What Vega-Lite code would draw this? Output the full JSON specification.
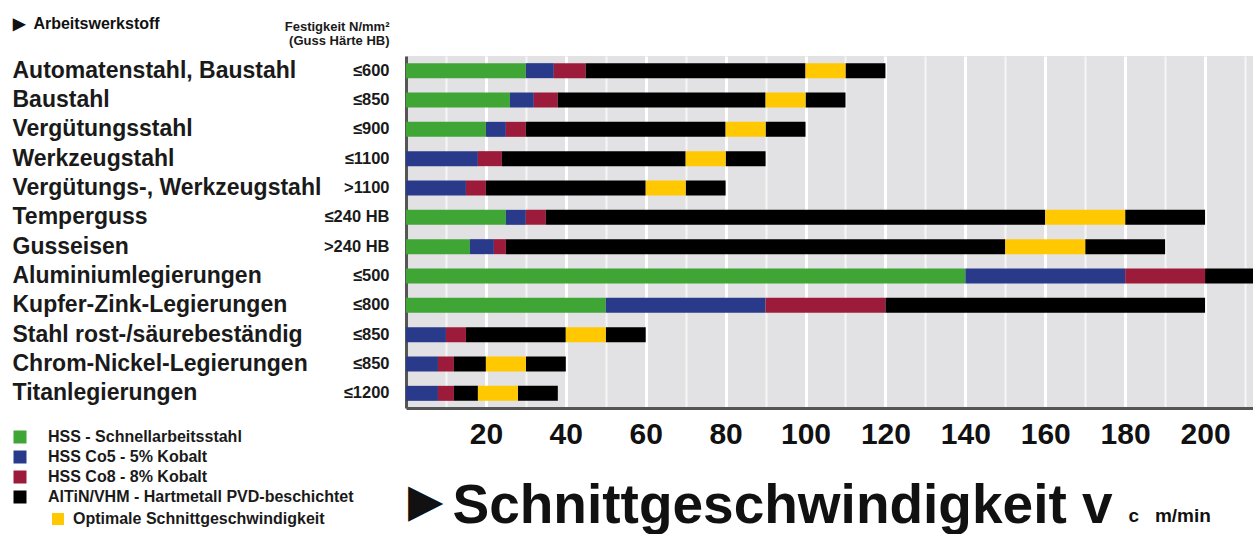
{
  "$schema": "https://vega.github.io/schema/vega-lite/v6.json",
  "width": 847,
  "height": 352,
  "autosize": "none",
  "padding": {"left": 406, "top": 56, "right": 0, "bottom": 126},
  "background": "white",
  "config": {
    "view": {"fill": "#e2e2e4", "stroke": null},
    "font": "Liberation Sans"
  },
  "title": {
    "text": "▶",
    "orient": "bottom",
    "anchor": "start",
    "frame": "group",
    "font": "DejaVu Sans",
    "fontSize": 46,
    "color": "#111111",
    "dx": 2,
    "dy": -57
  },
  "data": {
    "values": [
      {"row": "Automatenstahl, Baustahl|≤600", "tool": "HSS - Schnellarbeitsstahl", "start": 0, "end": 30},
      {"row": "Automatenstahl, Baustahl|≤600", "tool": "HSS Co5 - 5% Kobalt", "start": 30, "end": 37},
      {"row": "Automatenstahl, Baustahl|≤600", "tool": "HSS Co8 - 8% Kobalt", "start": 37, "end": 45},
      {"row": "Automatenstahl, Baustahl|≤600", "tool": "AlTiN/VHM - Hartmetall PVD-beschichtet", "start": 45, "end": 100},
      {"row": "Automatenstahl, Baustahl|≤600", "tool": "Optimale Schnittgeschwindigkeit", "start": 100, "end": 110},
      {"row": "Automatenstahl, Baustahl|≤600", "tool": "AlTiN/VHM - Hartmetall PVD-beschichtet", "start": 110, "end": 120},

      {"row": "Baustahl|≤850", "tool": "HSS - Schnellarbeitsstahl", "start": 0, "end": 26},
      {"row": "Baustahl|≤850", "tool": "HSS Co5 - 5% Kobalt", "start": 26, "end": 32},
      {"row": "Baustahl|≤850", "tool": "HSS Co8 - 8% Kobalt", "start": 32, "end": 38},
      {"row": "Baustahl|≤850", "tool": "AlTiN/VHM - Hartmetall PVD-beschichtet", "start": 38, "end": 90},
      {"row": "Baustahl|≤850", "tool": "Optimale Schnittgeschwindigkeit", "start": 90, "end": 100},
      {"row": "Baustahl|≤850", "tool": "AlTiN/VHM - Hartmetall PVD-beschichtet", "start": 100, "end": 110},

      {"row": "Vergütungsstahl|≤900", "tool": "HSS - Schnellarbeitsstahl", "start": 0, "end": 20},
      {"row": "Vergütungsstahl|≤900", "tool": "HSS Co5 - 5% Kobalt", "start": 20, "end": 25},
      {"row": "Vergütungsstahl|≤900", "tool": "HSS Co8 - 8% Kobalt", "start": 25, "end": 30},
      {"row": "Vergütungsstahl|≤900", "tool": "AlTiN/VHM - Hartmetall PVD-beschichtet", "start": 30, "end": 80},
      {"row": "Vergütungsstahl|≤900", "tool": "Optimale Schnittgeschwindigkeit", "start": 80, "end": 90},
      {"row": "Vergütungsstahl|≤900", "tool": "AlTiN/VHM - Hartmetall PVD-beschichtet", "start": 90, "end": 100},

      {"row": "Werkzeugstahl|≤1100", "tool": "HSS Co5 - 5% Kobalt", "start": 0, "end": 18},
      {"row": "Werkzeugstahl|≤1100", "tool": "HSS Co8 - 8% Kobalt", "start": 18, "end": 24},
      {"row": "Werkzeugstahl|≤1100", "tool": "AlTiN/VHM - Hartmetall PVD-beschichtet", "start": 24, "end": 70},
      {"row": "Werkzeugstahl|≤1100", "tool": "Optimale Schnittgeschwindigkeit", "start": 70, "end": 80},
      {"row": "Werkzeugstahl|≤1100", "tool": "AlTiN/VHM - Hartmetall PVD-beschichtet", "start": 80, "end": 90},

      {"row": "Vergütungs-, Werkzeugstahl|>1100", "tool": "HSS Co5 - 5% Kobalt", "start": 0, "end": 15},
      {"row": "Vergütungs-, Werkzeugstahl|>1100", "tool": "HSS Co8 - 8% Kobalt", "start": 15, "end": 20},
      {"row": "Vergütungs-, Werkzeugstahl|>1100", "tool": "AlTiN/VHM - Hartmetall PVD-beschichtet", "start": 20, "end": 60},
      {"row": "Vergütungs-, Werkzeugstahl|>1100", "tool": "Optimale Schnittgeschwindigkeit", "start": 60, "end": 70},
      {"row": "Vergütungs-, Werkzeugstahl|>1100", "tool": "AlTiN/VHM - Hartmetall PVD-beschichtet", "start": 70, "end": 80},

      {"row": "Temperguss|≤240 HB", "tool": "HSS - Schnellarbeitsstahl", "start": 0, "end": 25},
      {"row": "Temperguss|≤240 HB", "tool": "HSS Co5 - 5% Kobalt", "start": 25, "end": 30},
      {"row": "Temperguss|≤240 HB", "tool": "HSS Co8 - 8% Kobalt", "start": 30, "end": 35},
      {"row": "Temperguss|≤240 HB", "tool": "AlTiN/VHM - Hartmetall PVD-beschichtet", "start": 35, "end": 160},
      {"row": "Temperguss|≤240 HB", "tool": "Optimale Schnittgeschwindigkeit", "start": 160, "end": 180},
      {"row": "Temperguss|≤240 HB", "tool": "AlTiN/VHM - Hartmetall PVD-beschichtet", "start": 180, "end": 200},

      {"row": "Gusseisen|>240 HB", "tool": "HSS - Schnellarbeitsstahl", "start": 0, "end": 16},
      {"row": "Gusseisen|>240 HB", "tool": "HSS Co5 - 5% Kobalt", "start": 16, "end": 22},
      {"row": "Gusseisen|>240 HB", "tool": "HSS Co8 - 8% Kobalt", "start": 22, "end": 25},
      {"row": "Gusseisen|>240 HB", "tool": "AlTiN/VHM - Hartmetall PVD-beschichtet", "start": 25, "end": 150},
      {"row": "Gusseisen|>240 HB", "tool": "Optimale Schnittgeschwindigkeit", "start": 150, "end": 170},
      {"row": "Gusseisen|>240 HB", "tool": "AlTiN/VHM - Hartmetall PVD-beschichtet", "start": 170, "end": 190},

      {"row": "Aluminiumlegierungen|≤500", "tool": "HSS - Schnellarbeitsstahl", "start": 0, "end": 140},
      {"row": "Aluminiumlegierungen|≤500", "tool": "HSS Co5 - 5% Kobalt", "start": 140, "end": 180},
      {"row": "Aluminiumlegierungen|≤500", "tool": "HSS Co8 - 8% Kobalt", "start": 180, "end": 200},
      {"row": "Aluminiumlegierungen|≤500", "tool": "AlTiN/VHM - Hartmetall PVD-beschichtet", "start": 200, "end": 240},

      {"row": "Kupfer-Zink-Legierungen|≤800", "tool": "HSS - Schnellarbeitsstahl", "start": 0, "end": 50},
      {"row": "Kupfer-Zink-Legierungen|≤800", "tool": "HSS Co5 - 5% Kobalt", "start": 50, "end": 90},
      {"row": "Kupfer-Zink-Legierungen|≤800", "tool": "HSS Co8 - 8% Kobalt", "start": 90, "end": 120},
      {"row": "Kupfer-Zink-Legierungen|≤800", "tool": "AlTiN/VHM - Hartmetall PVD-beschichtet", "start": 120, "end": 200},

      {"row": "Stahl rost-/säurebeständig|≤850", "tool": "HSS Co5 - 5% Kobalt", "start": 0, "end": 10},
      {"row": "Stahl rost-/säurebeständig|≤850", "tool": "HSS Co8 - 8% Kobalt", "start": 10, "end": 15},
      {"row": "Stahl rost-/säurebeständig|≤850", "tool": "AlTiN/VHM - Hartmetall PVD-beschichtet", "start": 15, "end": 40},
      {"row": "Stahl rost-/säurebeständig|≤850", "tool": "Optimale Schnittgeschwindigkeit", "start": 40, "end": 50},
      {"row": "Stahl rost-/säurebeständig|≤850", "tool": "AlTiN/VHM - Hartmetall PVD-beschichtet", "start": 50, "end": 60},

      {"row": "Chrom-Nickel-Legierungen|≤850", "tool": "HSS Co5 - 5% Kobalt", "start": 0, "end": 8},
      {"row": "Chrom-Nickel-Legierungen|≤850", "tool": "HSS Co8 - 8% Kobalt", "start": 8, "end": 12},
      {"row": "Chrom-Nickel-Legierungen|≤850", "tool": "AlTiN/VHM - Hartmetall PVD-beschichtet", "start": 12, "end": 20},
      {"row": "Chrom-Nickel-Legierungen|≤850", "tool": "Optimale Schnittgeschwindigkeit", "start": 20, "end": 30},
      {"row": "Chrom-Nickel-Legierungen|≤850", "tool": "AlTiN/VHM - Hartmetall PVD-beschichtet", "start": 30, "end": 40},

      {"row": "Titanlegierungen|≤1200", "tool": "HSS Co5 - 5% Kobalt", "start": 0, "end": 8},
      {"row": "Titanlegierungen|≤1200", "tool": "HSS Co8 - 8% Kobalt", "start": 8, "end": 12},
      {"row": "Titanlegierungen|≤1200", "tool": "AlTiN/VHM - Hartmetall PVD-beschichtet", "start": 12, "end": 18},
      {"row": "Titanlegierungen|≤1200", "tool": "Optimale Schnittgeschwindigkeit", "start": 18, "end": 28},
      {"row": "Titanlegierungen|≤1200", "tool": "AlTiN/VHM - Hartmetall PVD-beschichtet", "start": 28, "end": 38}
    ]
  },
  "layer": [
    {
      "transform": [{"filter": "datum.tool !== 'Optimale Schnittgeschwindigkeit'"}],
      "mark": {"type": "bar", "size": 15, "clip": true},
      "encoding": {
        "y": {
          "field": "row", "type": "nominal", "sort": null,
          "scale": {"domain": ["Automatenstahl, Baustahl|≤600", "Baustahl|≤850", "Vergütungsstahl|≤900", "Werkzeugstahl|≤1100", "Vergütungs-, Werkzeugstahl|>1100", "Temperguss|≤240 HB", "Gusseisen|>240 HB", "Aluminiumlegierungen|≤500", "Kupfer-Zink-Legierungen|≤800", "Stahl rost-/säurebeständig|≤850", "Chrom-Nickel-Legierungen|≤850", "Titanlegierungen|≤1200"], "paddingInner": 0, "paddingOuter": 0},
          "axis": {
            "orient": "left",
            "labelExpr": "split(datum.value, '|')[0]",
            "labelAlign": "left", "labelBaseline": "middle", "labelPadding": 394, "labelLimit": 500,
            "ticks": false, "tickSize": 0,
            "domainColor": "#555555", "domainWidth": 3,
            "labelFont": "Liberation Sans", "labelFontSize": 23, "labelFontWeight": "bold", "labelColor": "#1a1a1a",
            "title": "c\u00a0\u00a0\u00a0m/min", "titleAngle": 0, "titleX": 722, "titleY": 465, "titleAlign": "left", "titleBaseline": "alphabetic",
            "titleFontSize": 19, "titleFontWeight": "bold", "titleColor": "#111111"
          }
        },
        "x": {
          "field": "start", "type": "quantitative",
          "scale": {"domain": [0, 212], "nice": false, "zero": false},
          "axis": {
            "orient": "bottom",
            "values": [10, 20, 30, 40, 50, 60, 70, 80, 90, 100, 110, 120, 130, 140, 150, 160, 170, 180, 190, 200, 210],
            "labelExpr": "datum.value % 20 === 0 ? datum.label : ''",
            "grid": true,
            "gridColor": {"condition": {"test": "datum.value % 20 === 0", "value": "#ffffff"}, "value": "#f6f6f6"},
            "gridWidth": {"condition": {"test": "datum.value % 20 === 0", "value": 3}, "value": 2},
            "ticks": false, "tickSize": 0,
            "domainColor": "#555555", "domainWidth": 3,
            "labelFontSize": 30, "labelFontWeight": "bold", "labelColor": "#111111", "labelPadding": 11, "labelBaseline": "top",
            "labelFlush": false, "labelOverlap": false,
            "title": "Schnittgeschwindigkeit v", "titleFontSize": 55, "titleFontWeight": "bold", "titleColor": "#111111",
            "titleX": 46, "titleY": 114, "titleAlign": "left", "titleBaseline": "alphabetic", "titleAnchor": "start"
          }
        },
        "x2": {"field": "end"},
        "color": {
          "field": "tool", "type": "nominal",
          "scale": {
            "domain": ["HSS - Schnellarbeitsstahl", "HSS Co5 - 5% Kobalt", "HSS Co8 - 8% Kobalt", "AlTiN/VHM - Hartmetall PVD-beschichtet"],
            "range": ["#3fa535", "#2a3a8a", "#9d1b3a", "#000000"]
          },
          "legend": {
            "orient": "none", "legendX": -394, "legendY": 373, "title": null, "padding": 0,
            "symbolType": "square", "symbolSize": 169, "symbolStrokeWidth": 0, "symbolOpacity": 1,
            "labelFontSize": 16, "labelFontWeight": "bold", "labelColor": "#1a1a1a", "labelOffset": 20, "rowPadding": 4, "labelLimit": 500
          }
        }
      }
    },
    {
      "transform": [{"filter": "datum.tool === 'Optimale Schnittgeschwindigkeit'"}],
      "mark": {"type": "bar", "size": 15, "clip": true},
      "encoding": {
        "y": {
          "field": "row", "type": "nominal", "sort": null,
          "scale": {"domain": ["Automatenstahl, Baustahl|≤600", "Baustahl|≤850", "Vergütungsstahl|≤900", "Werkzeugstahl|≤1100", "Vergütungs-, Werkzeugstahl|>1100", "Temperguss|≤240 HB", "Gusseisen|>240 HB", "Aluminiumlegierungen|≤500", "Kupfer-Zink-Legierungen|≤800", "Stahl rost-/säurebeständig|≤850", "Chrom-Nickel-Legierungen|≤850", "Titanlegierungen|≤1200"], "paddingInner": 0, "paddingOuter": 0},
          "axis": {
            "orient": "left",
            "labelExpr": "split(datum.value, '|')[1]",
            "labelAlign": "right", "labelBaseline": "middle", "labelPadding": 17, "labelLimit": 200,
            "ticks": false, "tickSize": 0, "domain": false, "grid": false,
            "labelFont": "Liberation Sans", "labelFontSize": 16.5, "labelFontWeight": "bold", "labelColor": "#1a1a1a",
            "title": ["Festigkeit N/mm²", "(Guss Härte HB)"], "titleAngle": 0, "titleX": -17, "titleY": -26,
            "titleAlign": "right", "titleBaseline": "alphabetic", "titleFontSize": 13, "titleFontWeight": "bold",
            "titleLineHeight": 14.5, "titleColor": "#1a1a1a"
          }
        },
        "x": {
          "field": "start", "type": "quantitative",
          "scale": {"domain": [0, 212], "nice": false, "zero": false},
          "axis": {
            "orient": "top", "labels": false, "ticks": false, "domain": false, "grid": false,
            "title": "▶\u00a0\u00a0Arbeitswerkstoff", "titleX": -394, "titleY": -28, "titleAlign": "left", "titleAnchor": "start",
            "titleBaseline": "alphabetic", "titleFontSize": 16, "titleFontWeight": "bold", "titleColor": "#111111"
          }
        },
        "x2": {"field": "end"},
        "fill": {
          "field": "tool", "type": "nominal",
          "scale": {"domain": ["Optimale Schnittgeschwindigkeit"], "range": ["#ffc800"]},
          "legend": {
            "orient": "none", "legendX": -356, "legendY": 455, "title": null, "padding": 0,
            "symbolType": "square", "symbolSize": 144, "symbolStrokeWidth": 0, "symbolOpacity": 1,
            "labelFontSize": 16, "labelFontWeight": "bold", "labelColor": "#1a1a1a", "labelOffset": 7, "labelLimit": 500
          }
        }
      }
    }
  ],
  "resolve": {"axis": {"x": "independent", "y": "independent"}, "scale": {"color": "independent"}}
}
